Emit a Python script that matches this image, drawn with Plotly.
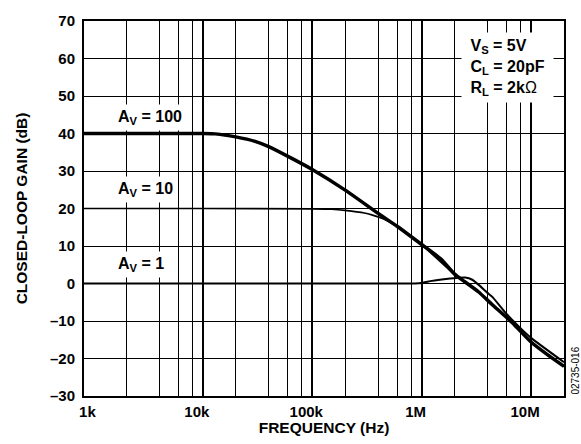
import math
import plotly.graph_objects as go

# Closed-loop gain vs frequency for three noise-gain settings
freq_av100 = [820, 5e3, 1e4, 1.3e4, 2e4, 3e4, 4e4, 6e4, 1e5, 2e5, 4e5, 6e5, 1e6,
              1.5e6, 2e6, 2.5e6, 3.3e6, 4.4e6, 6.7e6, 1e7, 1.4e7, 2e7]
gain_av100 = [40, 40, 40, 39.9, 39.1, 37.9, 36.5, 33.9, 30.4, 24.9, 18.7, 15.2, 10.4,
              6.5, 2.5, 0.4, -2.2, -5.6, -10.4, -15.6, -18.9, -22.1]

freq_av10 = [820, 1e4, 1e5, 1.5e5, 2e5, 3e5, 3.5e5, 4.5e5, 6e5, 1e6, 2e6, 3.3e6,
             4.4e6, 6.7e6, 1e7, 2e7]
gain_av10 = [20.0, 20.0, 19.9, 19.8, 19.5, 18.8, 18.3, 17.2, 15.1, 10.3, 2.4, -2.3,
             -5.6, -10.4, -15.6, -22.1]

freq_av1 = [820, 5e5, 9.5e5, 1.24e6, 1.67e6, 2.2e6, 2.5e6, 2.9e6, 3.3e6, 4e6, 4.4e6,
            6e6, 8e6, 1e7, 2e7]
gain_av1 = [0, 0, 0.05, 0.7, 1.2, 1.55, 1.6, 1.0, -0.3, -2.5, -3.5, -8.2, -11.9,
            -14.5, -21.0]

# Axis ticks and grid
x_range = [820, 2e7]
x_label_vals = [1e3, 1e4, 1e5, 1e6, 1e7]
x_label_text = ["1k", "10k", "100k", "1M", "10M"]
x_decade_grid = [1e4, 1e5, 1e6, 1e7]
x_minor_mult = [2, 4, 6, 8]
x_minor_decades = [1e3, 1e4, 1e5, 1e6, 1e7]
y_vals = [-30, -20, -10, 0, 10, 20, 30, 40, 50, 60, 70]
y_text = ["–30", "–20", "–10", "0", "10", "20", "30", "40", "50", "60", "70"]

minor_vals = [m * d for d in x_minor_decades for m in x_minor_mult if m * d <= x_range[1]]
log_range = [math.log10(x_range[0]), math.log10(x_range[1])]

FONT = "Liberation Sans, Arial, Helvetica, sans-serif"
tick_font = dict(family=FONT, size=15, color="black", weight="bold")
title_font = dict(family=FONT, size=15.5, color="black", weight="bold")

fig = go.Figure()
common = dict(mode="lines", hoverinfo="skip", showlegend=False, line_shape="spline")
fig.add_trace(go.Scatter(x=freq_av10, y=gain_av10, line=dict(color="black", width=1.6, smoothing=0.6), **common))
fig.add_trace(go.Scatter(x=freq_av1, y=gain_av1, line=dict(color="black", width=2, smoothing=0.6), **common))
fig.add_trace(go.Scatter(x=freq_av100, y=gain_av100, line=dict(color="black", width=3.5, smoothing=0.6), **common))
# empty trace to carry the labelled frequency axis
fig.add_trace(go.Scatter(x=[], y=[], xaxis="x2", yaxis="y", showlegend=False, hoverinfo="skip"))

fig.update_layout(
    width=581, height=444,
    margin=dict(l=84, r=17, t=14, b=46),
    paper_bgcolor="white", plot_bgcolor="white",
    xaxis=dict(
        type="log", range=log_range,
        tickvals=x_decade_grid, showticklabels=False, ticks="",
        showgrid=True, gridcolor="black", gridwidth=2,
        minor=dict(tickvals=minor_vals, showgrid=True, gridcolor="black", gridwidth=1, ticks=""),
        showline=True, linecolor="black", linewidth=2, mirror=True,
        zeroline=False,
        title=dict(text="FREQUENCY (Hz)", font=title_font, standoff=25),
    ),
    xaxis2=dict(
        type="log", range=log_range, overlaying="x", anchor="y", side="bottom",
        tickvals=x_label_vals, ticktext=x_label_text, tickfont=tick_font,
        ticks="", ticklabelshift=-6, ticklabelstandoff=5, showgrid=False,
        showline=False, zeroline=False,
    ),
    yaxis=dict(
        range=[-30, 70], tickvals=y_vals, ticktext=y_text, tickfont=tick_font,
        ticks="", ticklabelstandoff=4,
        showgrid=True, gridcolor="black", gridwidth=1, zeroline=False,
        showline=True, linecolor="black", linewidth=2, mirror=True,
        title=dict(text="CLOSED-LOOP GAIN (dB)", font=title_font, standoff=19),
    ),
)

label_font = dict(family=FONT, size=16, color="black", weight="bold")
for txt, xf, yv in [("A<sub>V</sub> = 100", 1550, 44.3),
                    ("A<sub>V</sub> = 10", 1550, 25.0),
                    ("A<sub>V</sub> = 1", 1550, 5.2)]:
    fig.add_annotation(x=math.log10(xf), y=yv, xref="x", yref="y", text=txt,
                       showarrow=False, xanchor="left", yanchor="middle",
                       font=label_font, bgcolor="white", borderpad=3)

fig.add_annotation(
    x=(461 - 84) / 480, y=(398 - 25) / 384, xref="paper", yref="paper",
    text="&nbsp;V<sub>S</sub> = 5V&nbsp;<br>&nbsp;C<sub>L</sub> = 20pF&nbsp;<br>&nbsp;R<sub>L</sub> = 2k<span style='font-weight:normal'>Ω</span>&nbsp;",
    showarrow=False, xanchor="left", yanchor="top", align="left",
    font=label_font, bgcolor="white", borderpad=4,
)

fig.add_annotation(
    x=(576 - 84) / 480, y=(398 - 372) / 384, xref="paper", yref="paper",
    text="02735-016", textangle=-90, showarrow=False,
    xanchor="center", yanchor="middle",
    font=dict(family=FONT, size=10, color="black"),
)

fig.write_html("out.html")
